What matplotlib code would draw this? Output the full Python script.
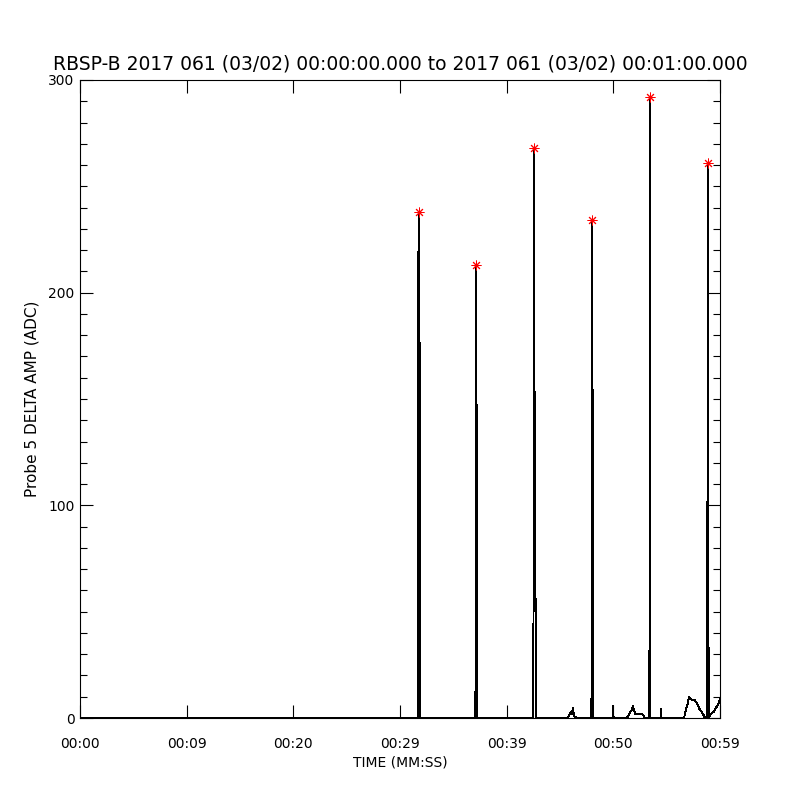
import matplotlib
matplotlib.use("Agg")
import matplotlib.pyplot as plt
from matplotlib.ticker import MultipleLocator, FixedLocator

# time (seconds after 00:00:00) and probe 5 delta amplitude (ADC)
time_s = [
    0.00, 31.66,
    31.67, 31.69, 31.78, 31.87, 31.89,                       # spike 1
    37.05, 37.08, 37.11, 37.13, 37.21, 37.23,                # spike 2
    42.49, 42.52, 42.56, 42.60, 42.73, 42.76,                # spike 3
    45.75, 45.84, 46.03, 46.12, 46.22, 46.31, 46.40, 46.59,  # small bump
    47.95, 47.97, 48.00, 48.06, 48.08,                       # spike 4
    49.98, 50.00, 50.02,
    51.28, 51.56, 51.75, 51.84, 52.03, 52.59, 52.78, 52.97,  # small bump
    53.38, 53.40, 53.42, 53.44, 53.48,                       # spike 5
    54.45, 54.47, 54.49,
    56.63, 56.81, 57.00, 57.09, 57.20, 57.38, 57.60, 57.84, 58.10, 58.40, 58.59,
    58.80, 58.82, 58.85, 58.88, 58.93,                       # spike 6
    59.16, 59.44, 59.63, 59.81, 60.00,
]
amp_adc = [
    0, 0,
    0, 202, 238, 127, 0,
    0, 14, 198, 213, 92, 0,
    0, 55, 268, 165, 30, 0,
    0, 1.4, 2.8, 2.0, 4.7, 1.0, 0.5, 0,
    0, 100, 234, 136, 0,
    0, 5.6, 0,
    0, 2.5, 4.0, 5.6, 2.0, 2.0, 1.5, 0,
    0, 68, 187, 292, 0,
    0, 4.2, 0,
    0, 4.0, 7.0, 10.0, 9.0, 8.5, 8.5, 7.0, 4.0, 2.0, 0,
    0, 72, 200, 261, 0,
    2.0, 3.0, 5.0, 6.0, 9.0,
]

# peaks flagged with red asterisks
peak_t = [31.78, 37.13, 42.56, 48.00, 53.44, 58.88]
peak_v = [238, 213, 268, 234, 292, 261]

xtick_pos = [0, 10, 20, 30, 40, 50, 60]
xtick_lab = ["00:00", "00:09", "00:20", "00:29", "00:39", "00:50", "00:59"]

tick_font = ["Liberation Sans Narrow", "DejaVu Sans"]

fig = plt.figure(figsize=(8, 8), dpi=100)
ax = fig.add_axes([0.1, 0.1025, 0.8, 0.7975])

ax.plot(time_s, amp_adc, color="black", lw=0.7, antialiased=False)
ax.plot(peak_t, peak_v, ls="none", marker=(8, 2, 0), ms=7, mew=0.7,
        color="red", antialiased=False)

ax.set_xlim(0, 60)
ax.set_ylim(0, 300)

ax.xaxis.set_major_locator(FixedLocator(xtick_pos))
ax.set_xticklabels(xtick_lab, family=tick_font, fontsize=10)
ax.yaxis.set_major_locator(MultipleLocator(100))
ax.yaxis.set_minor_locator(MultipleLocator(10))
for lab in ax.get_yticklabels():
    lab.set_family(tick_font)
    lab.set_fontsize(10)

ax.tick_params(axis="both", which="major", direction="in", length=9.5, width=0.8,
               top=True, right=True)
ax.tick_params(axis="x", which="major", pad=14)
ax.tick_params(axis="y", which="major", pad=4)
ax.tick_params(axis="y", which="minor", direction="in", length=5, width=0.8,
               right=True)
for s in ax.spines.values():
    s.set_linewidth(0.8)

ax.set_xlabel("TIME (MM:SS)", fontsize=10, labelpad=3)
ax.set_ylabel("Probe 5 DELTA AMP (ADC)", fontsize=11, labelpad=6)

fig.text(0.5, 1 - 64 / 800, "RBSP-B 2017 061 (03/02) 00:00:00.000 to 2017 061 (03/02) 00:01:00.000",
         ha="center", va="center", fontsize=13.5)

fig.savefig("out.png", dpi=100)
